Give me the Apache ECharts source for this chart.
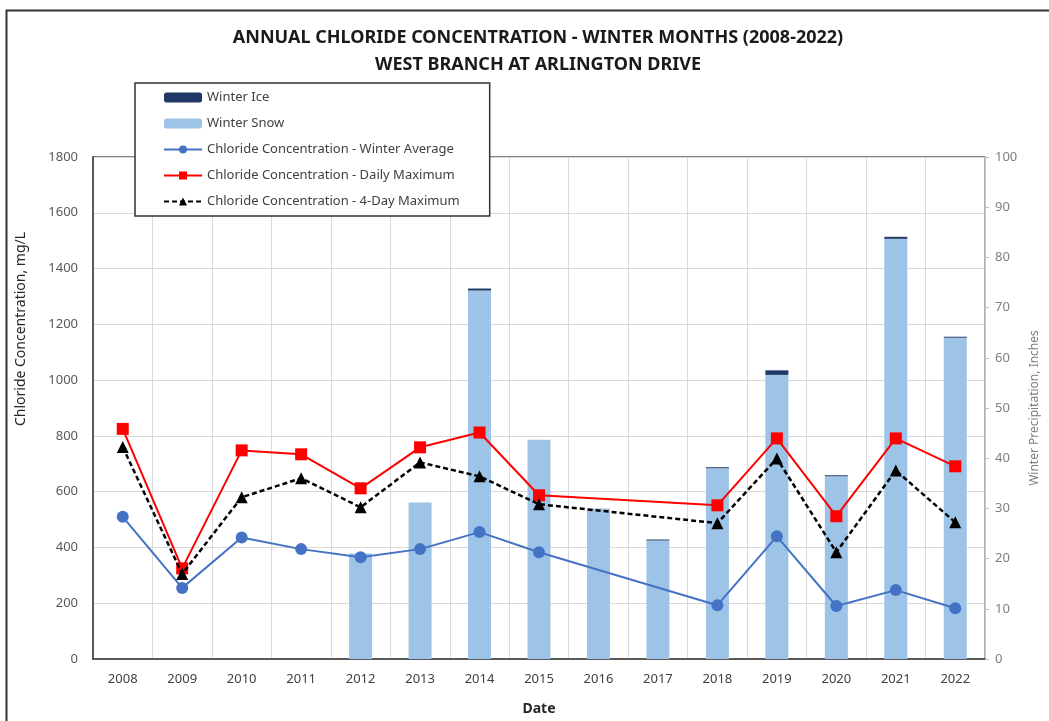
<!DOCTYPE html>
<html>
<head>
<meta charset="utf-8">
<script src="https://cdn.jsdelivr.net/npm/echarts@6/dist/echarts.min.js"></script>
<style>
  html, body { margin: 0; padding: 0; background: #fff; }
  #chart { width: 1049px; height: 721px; }
</style>
</head>
<body>
<div id="chart"></div>
<script>
// years on the x axis
const years = ['2008', '2009', '2010', '2011', '2012', '2013', '2014', '2015',
  '2016', '2017', '2018', '2019', '2020', '2021', '2022'];

// winter precipitation, inches (right axis)
const winterSnow = [null, null, null, null, 21.0, 31.2, 73.4, 43.7, 30.0, 23.6, 38.0, 56.6, 36.4, 83.7, 64.0];
const winterIce = [null, null, null, null, 0, 0, 0.4, 0, 0, 0.2, 0.2, 0.9, 0.2, 0.4, 0.2];

// chloride concentration, mg/L (left axis) - no samples in 2016/2017
const winterAvg = [510, 255, 436, 394, 365, 394, 455, 383, null, null, 193, 440, 190, 247, 182];
const dailyMax = [825, 325, 748, 734, 612, 759, 812, 587, null, null, 551, 791, 512, 791, 691];
const fourDayMax = [760, 305, 580, 648, 544, 705, 655, 555, null, null, 487, 719, 383, 676, 490];

const chart = echarts.init(document.getElementById('chart'));

const option = {
  backgroundColor: '#fff',
  animation: false,
  textStyle: { fontFamily: 'Noto Sans' },
  title: {
    text: 'ANNUAL CHLORIDE CONCENTRATION - WINTER MONTHS (2008-2022)\nWEST BRANCH AT ARLINGTON DRIVE',
    left: 533,
    textAlign: 'center',
    top: 19,
    textStyle: {
      fontSize: 18,
      fontWeight: 'bold',
      color: '#1a1a1a',
      lineHeight: 27,
      fontFamily: 'Noto Sans'
    }
  },
  legend: {
    orient: 'vertical',
    left: 135,
    top: 83,
    padding: [8, 30, 8, 28],
    itemGap: 13,
    itemWidth: 38,
    itemHeight: 10,
    backgroundColor: '#fff',
    borderColor: '#333',
    borderWidth: 1.5,
    textStyle: { fontSize: 13, color: '#404040' },
    data: [
      'Winter Ice',
      'Winter Snow',
      'Chloride Concentration - Winter Average',
      'Chloride Concentration - Daily Maximum',
      'Chloride Concentration - 4-Day Maximum'
    ],
    z: 10
  },
  grid: {
    left: 93,
    right: 57,
    top: 157,
    bottom: 61,
    show: true,
    borderColor: '#595959',
    borderWidth: 1.5
  },
  xAxis: {
    type: 'category',
    data: years,
    name: 'Date',
    nameLocation: 'middle',
    nameGap: 43,
    nameTextStyle: { fontSize: 14, fontWeight: 'bold', color: '#262626' },
    axisLine: { lineStyle: { color: '#595959', width: 2 } },
    axisTick: { show: false },
    axisLabel: { fontSize: 13, color: '#404040', margin: 14 },
    splitLine: { show: true, lineStyle: { color: '#d9d9d9', width: 1 } }
  },
  yAxis: [
    {
      type: 'value',
      min: 0,
      max: 1800,
      interval: 200,
      axisLine: { show: true, lineStyle: { color: '#595959', width: 2 } },
      axisTick: { show: false },
      axisLabel: { fontSize: 13, color: '#595959', margin: 15, formatter: (v) => String(v) },
      splitLine: { lineStyle: { color: '#d9d9d9', width: 1 } }
    },
    {
      type: 'value',
      min: 0,
      max: 100,
      interval: 10,
      name: 'Winter Precipitation, Inches',
      nameLocation: 'middle',
      nameGap: 44,
      nameRotate: 90,
      nameTextStyle: { fontSize: 12, color: '#7f7f7f' },
      axisLine: { show: true, lineStyle: { color: '#bfbfbf', width: 1.5 } },
      axisTick: { show: true, length: 4, lineStyle: { color: '#bfbfbf' } },
      axisLabel: { fontSize: 13, color: '#7f7f7f', margin: 10 },
      splitLine: { show: false }
    }
  ],
  series: [
    {
      name: 'Winter Snow',
      type: 'bar',
      yAxisIndex: 1,
      stack: 'precip',
      barWidth: 23,
      itemStyle: { color: '#9dc3e6' },
      data: winterSnow
    },
    {
      name: 'Winter Ice',
      type: 'bar',
      yAxisIndex: 1,
      stack: 'precip',
      barWidth: 23,
      itemStyle: { color: '#1f3864' },
      data: winterIce
    },
    {
      name: 'Chloride Concentration - Winter Average',
      type: 'line',
      yAxisIndex: 0,
      connectNulls: true,
      symbol: 'circle',
      symbolSize: 12,
      lineStyle: { color: '#4472c4', width: 2 },
      itemStyle: { color: '#4472c4' },
      data: winterAvg,
      z: 3
    },
    {
      name: 'Chloride Concentration - Daily Maximum',
      type: 'line',
      yAxisIndex: 0,
      connectNulls: true,
      symbol: 'rect',
      symbolSize: 12,
      lineStyle: { color: '#ff0000', width: 2 },
      itemStyle: { color: '#ff0000' },
      data: dailyMax,
      z: 4
    },
    {
      name: 'Chloride Concentration - 4-Day Maximum',
      type: 'line',
      yAxisIndex: 0,
      connectNulls: true,
      symbol: 'triangle',
      symbolSize: 12,
      lineStyle: { color: '#000', width: 2.5, type: [5, 3] },
      itemStyle: { color: '#000' },
      data: fourDayMax,
      z: 5
    }
  ],
  graphic: [
    {
      type: 'rect',
      left: 4,
      top: 8,
      shape: { width: 1100, height: 800 },
      style: { fill: null, stroke: '#333', lineWidth: 2 },
      silent: true
    },
    {
      type: 'text',
      x: 21,
      y: 329,
      rotation: Math.PI / 2,
      style: {
        text: 'Chloride Concentration, mg/L',
        fontSize: 14,
        fontFamily: 'Noto Sans',
        fill: '#262626',
        align: 'center',
        verticalAlign: 'middle'
      }
    }
  ]
};

chart.setOption(option);
</script>
</body>
</html>
